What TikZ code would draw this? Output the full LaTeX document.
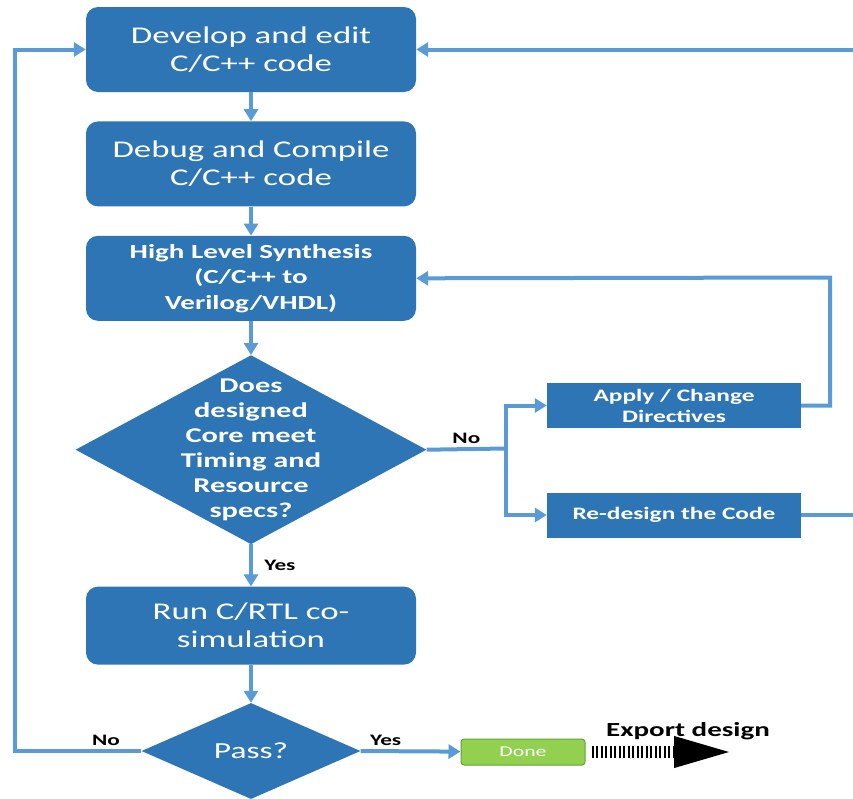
\documentclass[tikz,border=0pt]{standalone}
\usepackage{fontspec}
\setmainfont{Carlito}[FakeStretch=1.45]
\usetikzlibrary{positioning,shapes.geometric,arrows.meta}
\definecolor{boxblue}{RGB}{46,117,182}
\definecolor{lineblue}{RGB}{91,155,213}
\definecolor{donegreen}{RGB}{146,208,80}
\definecolor{doneedge}{RGB}{100,160,60}

\begin{document}
\begin{tikzpicture}[x=1pt, y=-1pt, node distance=29pt,
    box/.style={rectangle, rounded corners=12pt, fill=boxblue, text=white, minimum width=330pt, minimum height=85pt, align=center, font=\fontsize{24}{28}\selectfont},
    decision/.style={diamond, fill=boxblue, text=white, inner sep=0pt, align=center},
    fix/.style={rectangle, fill=boxblue, text=white, minimum width=254pt, minimum height=45pt, align=center, font=\bfseries\fontsize{17.5}{21}\selectfont},
    flow/.style={draw=lineblue, line width=4pt, -{Triangle[length=12pt,width=14pt]}},
    lbl/.style={font=\bfseries\fontsize{16}{18}\selectfont}]
      \useasboundingbox (0,0) rectangle (853,798);

      \node (D0) [box] at (251,49.5) {Develop and edit\\C/C++ code};
      \node (D1) [box, below=of D0] {Debug and Compile\\C/C++ code};
      \node (D2) [box, below=of D1, font=\bfseries\fontsize{20}{25.5}\selectfont] {High Level Synthesis\\(C/C++ to\\Verilog/VHDL)};
      \node (Q1) [decision, below=34pt of D2, minimum width=351pt, minimum height=189pt,
        label={[align=center, text=white, font=\bfseries\fontsize{21}{25}\selectfont]center:Does\\designed\\Core meet\\Timing and\\Resource\\specs?}] {};
      \node (D3) [box, below=42pt of Q1, minimum height=78pt] {Run C/RTL co-\\simulation};
      \node (Q2) [decision, below=38pt of D3, minimum width=219pt, minimum height=96pt, font=\fontsize{23}{27}\selectfont] {Pass?};

      \node (F1) [fix] at (674,405.5) {Apply / Change\\Directives};
      \node (F2) [fix] at (674,515) {Re-design the Code};
      \node (R0) [rectangle, rounded corners=3pt, fill=donegreen, draw=doneedge, line width=1pt, minimum width=124pt, minimum height=26pt, text=white, font=\fontsize{15}{15}\selectfont] at (523,752) {Done};
      \node (X0) [font=\bfseries\fontsize{20}{20}\selectfont] at (688,731) {Export design};

      \coordinate (S0) at (506,448.5);
      \coordinate (L0) at (15,49.5);
      \coordinate (L1) at (857,49.5);
      \coordinate (L2) at (830,277.5);
      \coordinate (E0) at (734,752);

      % main flow
      \draw[flow] (D0) -- (D1);
      \draw[flow] (D1) -- (D2);
      \draw[flow] (D2) -- (Q1.north);
      \draw[flow] (Q1.south) -- node[lbl, right=8pt] {Yes} (D3);
      \draw[flow] (D3) -- (Q2.north);
      \draw[flow] (Q2.east) -- node[lbl, above, pos=0.25] {Yes} (R0);

      % loops back
      \draw[flow] (Q2.west) -| node[lbl, above, pos=0.14] {No} (L0) -- (D0.west);
      \draw[draw=lineblue, line width=4pt] (Q1.east) -- node[lbl, above] {No} (S0);
      \draw[flow] (S0) |- (F1.west);
      \draw[flow] (S0) |- (F2.west);
      \draw[flow] (F1.east) -| (L2) -- (D2.east);
      \draw[flow] (F2.east) -| (L1) -- (D0.east);

      \draw[line width=12pt, dash pattern=on 2pt off 2.5pt, -{Triangle[length=60pt,width=28pt]}] ([xshift=6pt]R0.east) -- (E0);
    \end{tikzpicture}
\end{document}
